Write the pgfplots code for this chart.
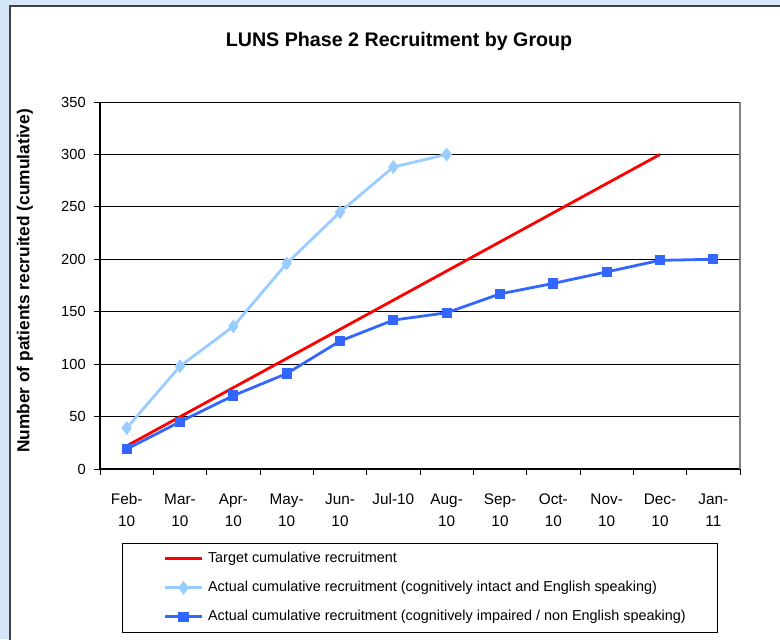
\documentclass[border=0pt]{standalone}
\usepackage{pgfplots}
\pgfplotsset{compat=1.18}
\usepackage{fontspec}
\setmainfont{Liberation Sans}
\definecolor{bgblue}{RGB}{214,230,250}
\definecolor{redl}{RGB}{255,0,0}
\definecolor{lightb}{RGB}{153,204,255}
\definecolor{blueb}{RGB}{51,102,255}
\begin{document}
\begin{tikzpicture}[x=0.75pt,y=0.75pt]
\useasboundingbox (0,0) rectangle (780,639);
\fill[bgblue] (0,0) rectangle (780,639);
\filldraw[fill=white,draw=black!75,line width=1.5pt] (10,-10) rectangle (800,633);
\node[font=\bfseries\fontsize{14.75}{17}\selectfont] at (399,598) {LUNS Phase 2 Recruitment by Group};
\node[font=\bfseries\fontsize{13}{15}\selectfont,rotate=90] at (25,358) {Number of patients recruited (cumulative)};
\begin{axis}[
  at={(75pt,127.5pt)}, anchor=south west,
  scale only axis, width=480pt, height=275.25pt,
  xmin=-0.5, xmax=11.5, ymin=0, ymax=350,
  axis x line*=bottom, axis y line*=left,
  axis line style={black, line width=0.8pt},
  tick align=outside, major tick length=4.5pt,
  tick style={black, line width=0.6pt},
  xtick={-0.5,0.5,...,11.5}, xticklabels={},
  extra x ticks={0,1,2,3,4,5,6,7,8,9,10,11},
  extra x tick labels={{Feb-\\10},{Mar-\\10},{Apr-\\10},{May-\\10},{Jun-\\10},{Jul-10},{Aug-\\10},{Sep-\\10},{Oct-\\10},{Nov-\\10},{Dec-\\10},{Jan-\\11}},
  extra x tick style={major tick length=0pt, grid=none},
  xticklabel style={align=center, anchor=north, yshift=-15pt, font=\fontsize{11.5}{16.5}\selectfont},
  ytick={0,50,...,350},
  yticklabel style={xshift=-2.7pt, font=\fontsize{11}{12}\selectfont},
  /pgf/number format/assume math mode=true,
  ymajorgrids, grid style={black, line width=0.6pt},
  clip=false,
  legend image code/.code={\path (-6.75pt,0pt); \draw[mark repeat=2,mark phase=2,#1] plot coordinates {(0pt,0pt)(13.9pt,0pt)(27.75pt,0pt)};},
  legend style={at={(0.0344,-0.2016)}, anchor=north west, draw=black, line width=0.8pt, fill=white,
    font=\fontsize{10.8}{12}\selectfont, row sep=11.75pt, column sep=3.5pt, inner xsep=24pt, inner ysep=6.5pt,
    nodes={inner sep=0pt, text height=7.5pt, text depth=2.5pt}},
  legend cell align=left,
]
\draw[black!50, line width=0.8pt] (rel axis cs:1,0) -- (rel axis cs:1,1);
\addplot[redl, line width=2.1pt, mark=none] coordinates {(0,22) (10,300)};
\addlegendentry{Target cumulative recruitment}
\addplot[lightb, line width=2.1pt, mark=diamond*, mark size=3.5pt, mark options={solid, fill=lightb, draw=lightb}] coordinates {
(0,39) (1,98) (2,136) (3,196) (4,245) (5,288) (6,300)};
\addlegendentry{Actual cumulative recruitment (cognitively intact and English speaking)}
\addplot[blueb, line width=2.1pt, mark=square*, mark size=2.8pt, mark options={solid, fill=blueb, draw=blueb}] coordinates {
(0,19) (1,45) (2,70) (3,91) (4,122) (5,142) (6,149) (7,167) (8,177) (9,188) (10,199) (11,200)};
\addlegendentry{Actual cumulative recruitment (cognitively impaired / non English speaking)}
\end{axis}
\end{tikzpicture}
\end{document}
